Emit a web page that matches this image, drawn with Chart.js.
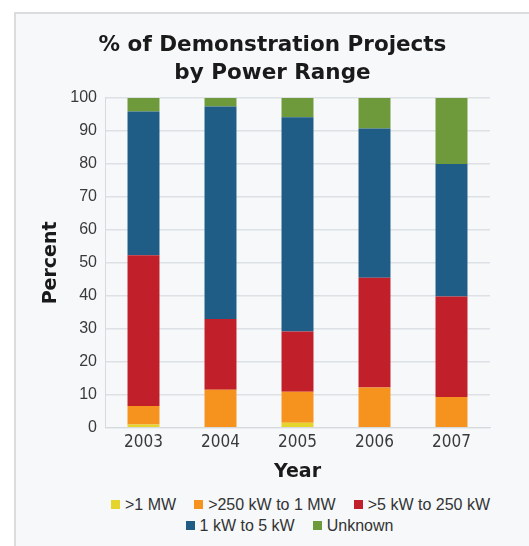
<!DOCTYPE html>
<html>
<head>
<meta charset="utf-8">
<script src="https://cdn.jsdelivr.net/npm/chart.js@4.4.1/dist/chart.umd.min.js"></script>
<style>
    body { margin: 0; background: #fff; width: 529px; height: 546px; overflow: hidden; font-family: "Liberation Sans", Arial, sans-serif; }
    #panel { position: absolute; left: 14px; top: 12px; width: 515px; height: 534px; box-sizing: border-box;
             border-left: 2px solid #dcdcdc; border-top: 2px solid #dcdcdc; background: #f6f8fa; }
    #powerChart { position: absolute; left: 0; top: 0; }
    .legend-row { position: absolute; left: 0; width: 513px; box-sizing: border-box; display: flex; justify-content: center;
                  height: 21px; line-height: 21px; font-size: 16px; color: #333; }
    .legend-item { display: inline-flex; align-items: center; margin: 0 9px; white-space: nowrap; }
    .legend-box { display: inline-block; width: 9px; height: 9px; margin-right: 5px; }
</style>
</head>
<body>
<div id="panel">
    <canvas id="powerChart" width="513" height="471"></canvas>
    <div id="legendRow1" class="legend-row" style="top:480px; padding-left:56px;"></div>
    <div id="legendRow2" class="legend-row" style="top:501px; padding-left:34px;"></div>
</div>
<script>
// Share of demonstration projects per year, by power range (percent)
const years = ['2003', '2004', '2005', '2006', '2007'];
const over1MW = [1, 0, 1.5, 0, 0];
const kw250to1MW = [5.6, 11.5, 9.4, 12.2, 9.3];
const kw5to250 = [45.7, 21.5, 18.3, 33.3, 30.5];
const kw1to5 = [43.6, 64.4, 64.9, 45.2, 40.2];
const unknownRange = [4.1, 2.6, 5.9, 9.3, 20];

const seriesLabels = ['>1 MW', '>250 kW to 1 MW', '>5 kW to 250 kW', '1 kW to 5 kW', 'Unknown'];
const seriesColors = ['#e4d42c', '#f6931f', '#c1202a', '#1f5d86', '#6f9a3b'];
const seriesData = [over1MW, kw250to1MW, kw5to250, kw1to5, unknownRange];

const tickFont = { family: "'Liberation Sans', Arial, sans-serif", size: 16 };
const yearFont = { family: "'Liberation Sans Narrow', 'DejaVu Sans Condensed', sans-serif", size: 17 };
const heavyFont = { family: "'DejaVu Sans', sans-serif", weight: 'bold', size: 19 };

const ctx = document.getElementById('powerChart').getContext('2d');

const powerChart = new Chart(ctx, {
    type: 'bar',
    data: {
        labels: years,
        datasets: seriesData.map((vals, i) => ({
            label: seriesLabels[i],
            data: vals,
            backgroundColor: seriesColors[i],
            borderWidth: 0,
            barPercentage: 0.415,
            categoryPercentage: 1
        }))
    },
    options: {
        responsive: false,
        animation: false,
        layout: { padding: { left: 0, right: 0, top: 0, bottom: 2 } },
        scales: {
            x: {
                stacked: true,
                grid: { display: false, drawTicks: false },
                border: { color: '#d6dadf' },
                ticks: { color: '#3a3a3a', font: yearFont, padding: 5 },
                title: { display: true, text: 'Year', color: '#1a1a1a', font: heavyFont, padding: { top: 2, bottom: 0 } }
            },
            y: {
                stacked: true,
                min: 0,
                max: 100,
                ticks: { stepSize: 10, color: '#3a3a3a', font: tickFont, padding: 8 },
                grid: { color: '#dde1e6', lineWidth: 1.5, drawTicks: false },
                border: { color: '#d6dadf' },
                title: { display: true, text: 'Percent', color: '#1a1a1a', font: heavyFont, padding: { top: 24, bottom: 6 } },
                afterFit: (scale) => { scale.width = 89; }
            },
            // empty spacer on the right so the title stays centred on the whole panel
            spacer: {
                position: 'right',
                display: true,
                grid: { display: false },
                border: { display: false },
                ticks: { display: false },
                afterFit: (scale) => { scale.width = 39; }
            }
        },
        plugins: {
            legend: { display: false },
            tooltip: { enabled: false },
            title: {
                display: true,
                text: ['% of Demonstration Projects', 'by Power Range'],
                color: '#1a1a1a',
                font: { family: "'DejaVu Sans', sans-serif", weight: 'bold', size: 21.5, lineHeight: 1.3 },
                padding: { top: 17, bottom: 11 }
            }
        }
    }
});

// HTML legend built from the chart's own legend items, split into two rows like the original
const items = powerChart.options.plugins.legend.labels.generateLabels(powerChart);
items.forEach((item, i) => {
    const row = document.getElementById(i < 3 ? 'legendRow1' : 'legendRow2');
    const el = document.createElement('span');
    el.className = 'legend-item';
    const box = document.createElement('span');
    box.className = 'legend-box';
    box.style.background = item.fillStyle;
    el.appendChild(box);
    el.appendChild(document.createTextNode(item.text));
    row.appendChild(el);
});
</script>
</body>
</html>
